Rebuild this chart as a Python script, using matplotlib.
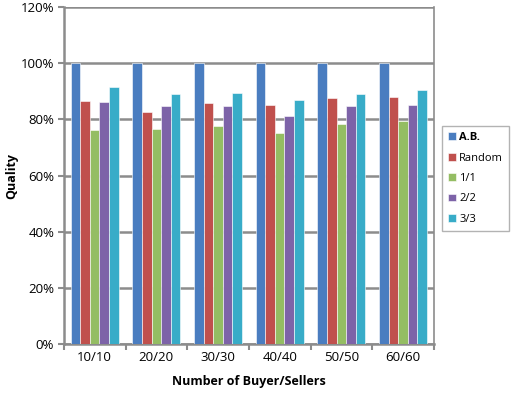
import matplotlib.pyplot as plt
import numpy as np

# data (quality in %)
groups = ['10/10', '20/20', '30/30', '40/40', '50/50', '60/60']
series_names = ['A.B.', 'Random', '1/1', '2/2', '3/3']
ab = [100, 100, 100, 100, 100, 100]
random_q = [86.6, 82.7, 85.7, 85.1, 87.7, 88.1]
one_one = [76.2, 76.7, 77.7, 75.2, 78.5, 79.4]
two_two = [86.3, 84.8, 84.9, 81.2, 84.8, 85.2]
three_three = [91.4, 88.9, 89.4, 86.9, 89.1, 90.5]
y_ticks = [0, 20, 40, 60, 80, 100, 120]

colors = ['#4a7dc0', '#c0504d', '#94bd63', '#7d63a8', '#38acc8']
grid_color = '#8c8c8c'

plt.rcParams['font.family'] = ['Open Sans', 'DejaVu Sans']

fig = plt.figure(figsize=(5.11, 4.0), dpi=100)
ax = fig.add_axes([0.125, 0.139, 0.724, 0.844])

x = np.arange(len(groups))
width = 0.155
all_series = [ab, random_q, one_one, two_two, three_three]
for i, vals in enumerate(all_series):
    offset = (i - 2) * width
    ax.bar(x + offset, vals, width, color=colors[i], label=series_names[i],
           edgecolor='white', linewidth=0.4, zorder=3)

ax.set_xlim(-0.5, len(groups) - 0.5)
ax.set_ylim(0, 120)
ax.set_yticks(y_ticks)
ax.set_yticklabels([f'{t}%' for t in y_ticks], fontsize=9.5)
ax.set_xticks(x)
ax.set_xticklabels(groups, fontsize=9.5)
ax.tick_params(axis='x', length=0, pad=5)
ax.tick_params(axis='y', length=4, width=1.5, color=grid_color, direction='out', pad=3)
# tick marks at category boundaries
ax.set_xticks(np.arange(-0.5, len(groups), 1), minor=True)
ax.tick_params(axis='x', which='minor', length=4, width=1.5, color=grid_color)

ax.yaxis.grid(True, color=grid_color, linewidth=1.8, zorder=0)
for side in ['left', 'bottom', 'right', 'top']:
    ax.spines[side].set_color(grid_color)
ax.spines['left'].set_linewidth(1.8)
ax.spines['bottom'].set_linewidth(1.8)
ax.spines['right'].set_linewidth(1.2)
ax.spines['top'].set_visible(False)

ax.set_ylabel('Quality', fontsize=9, fontweight='bold', labelpad=2)
ax.set_xlabel('Number of Buyer/Sellers', fontsize=9, fontweight='bold', labelpad=8)

leg = fig.legend(loc='upper left', bbox_to_anchor=(442 / 511, 1 - 126 / 400),
                 fontsize=8, frameon=True, fancybox=False, edgecolor='#a0a0a0',
                 handlelength=0.7, handleheight=0.7, handletextpad=0.3,
                 labelspacing=0.85, borderpad=0.55, borderaxespad=0)
leg.get_frame().set_linewidth(1.0)
leg.get_texts()[0].set_fontweight('bold')

fig.savefig('out.png', dpi=100)
